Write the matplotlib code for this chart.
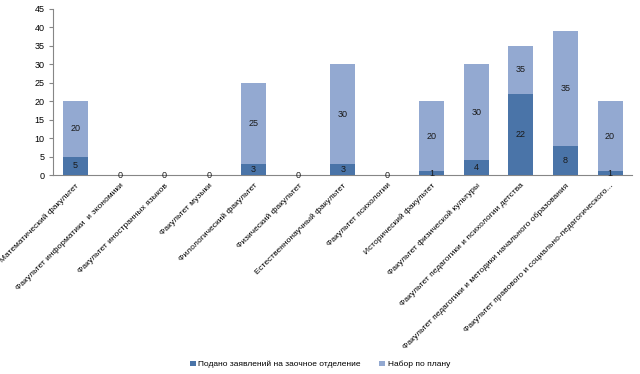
import matplotlib.pyplot as plt
import numpy as np

plt.rcParams['font.family'] = ['Liberation Sans', 'DejaVu Sans']

faculties = [
    'Математический факультет',
    'Факультет информатики  и экономики',
    'Факультет иностранных языков',
    'Факультет музыки',
    'Филологический факультет',
    'Физический факультет',
    'Естественнонаучный факультет',
    'Факультет психологии',
    'Исторический факультет',
    'Факультет физической культуры',
    'Факультет педагогики и психологии детства',
    'Факультет педагогики и методики начального образования',
    'Факультет правового и социально-педагогического...',
]
applied = [5, 0, 0, 0, 3, 0, 3, 0, 1, 4, 22, 8, 1]
plan_height = [20, 0, 0, 0, 25, 0, 30, 0, 20, 30, 35, 39, 20]
plan_label = [20, 0, 0, 0, 25, 0, 30, 0, 20, 30, 35, 35, 20]

dark = '#4A74A8'
light = '#93A9D1'

fig = plt.figure(figsize=(6.4, 3.74), dpi=100)
ax = fig.add_axes([0.083, 0.532, 0.905, 0.444])

x = np.arange(len(faculties))
w = 0.56
ax.bar(x, plan_height, w, color=light, zorder=2, label='Набор по плану')
ax.bar(x, applied, w, color=dark, zorder=3, label='Подано заявлений на заочное отделение')

for i in range(len(x)):
    ax.text(x[i], applied[i] / 2, str(applied[i]), ha='center', va='center',
            fontsize=6.5, color='#1a1a1a', zorder=4)
    if plan_height[i] > 0:
        ax.text(x[i], (applied[i] + plan_height[i]) / 2, str(plan_label[i]),
                ha='center', va='center', fontsize=6.5, color='#1a1a1a', zorder=4)

ax.set_xlim(-0.5, len(x) - 0.5)
ax.set_ylim(0, 45)
ax.set_yticks(range(0, 46, 5))
ax.set_xticks(x)
ax.set_xticklabels(faculties, rotation=45, ha='right', va='top',
                   rotation_mode='anchor', fontsize=6)
ax.tick_params(axis='x', length=0, pad=5)
ax.tick_params(axis='y', labelsize=6.5, length=3, color='#868686', pad=3)
for s in ['top', 'right']:
    ax.spines[s].set_visible(False)
for s in ['left', 'bottom']:
    ax.spines[s].set_color('#868686')
    ax.spines[s].set_linewidth(0.8)

h, l = ax.get_legend_handles_labels()
fig.legend(h[::-1], l[::-1], loc='lower center', bbox_to_anchor=(0.5, -0.005),
           ncol=2, frameon=False, fontsize=6, handlelength=0.7,
           handleheight=0.7, handletextpad=0.3, columnspacing=2.2)

fig.savefig('out.png', dpi=100)
